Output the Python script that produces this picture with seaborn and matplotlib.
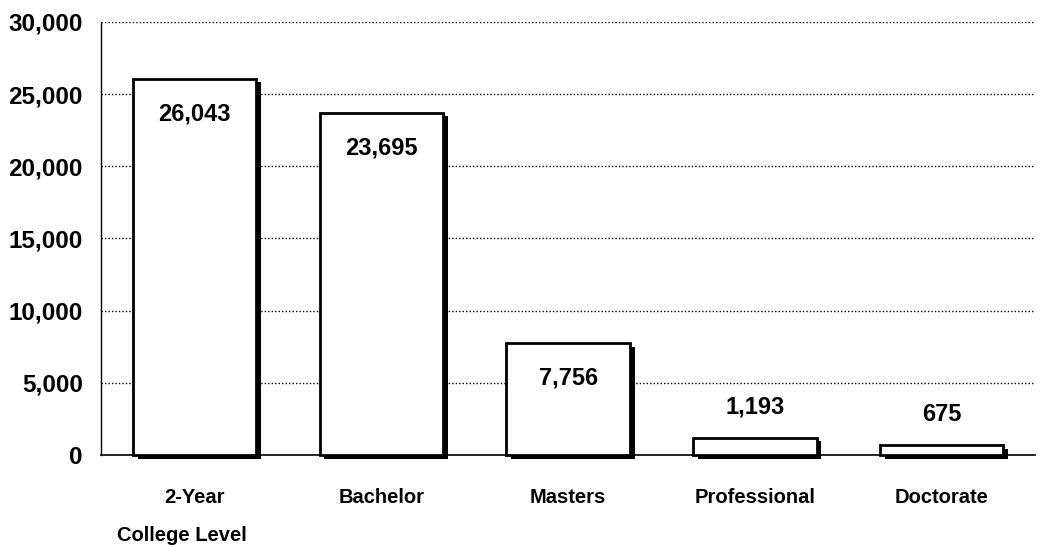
import pandas as pd
import seaborn as sns
import matplotlib.pyplot as plt
import matplotlib.patheffects as pe
from matplotlib.ticker import FuncFormatter

degrees = ["2-Year", "Bachelor", "Masters", "Professional", "Doctorate"]
counts = [26043, 23695, 7756, 1193, 675]

df = pd.DataFrame({"degree": degrees, "count": counts})

sns.set_theme(style="white", rc={
    "text.color": "black",
    "axes.labelcolor": "black",
    "xtick.color": "black",
    "ytick.color": "black",
})
plt.rcParams["font.family"] = ["Liberation Sans", "DejaVu Sans"]
plt.rcParams["font.weight"] = "bold"

fig = plt.figure(figsize=(10.46, 5.47), dpi=100)
ax = fig.add_axes([0.0966, 0.168, 0.893, 0.792])

sns.barplot(data=df, x="degree", y="count", color="white",
            edgecolor="black", linewidth=2, width=0.66, ax=ax, zorder=3)

for bar in ax.patches:
    bar.set_facecolor("white")
    bar.set_clip_on(False)
    bar.set_path_effects([
        pe.SimplePatchShadow(offset=(3.5, -2.5), shadow_rgbFace="black", alpha=1.0),
        pe.Normal(),
    ])

# value labels: inside the tall bars, above the short ones
for bar, v in zip(ax.patches, counts):
    x = bar.get_x() + bar.get_width() / 2
    if v > 5000:
        ax.annotate(f"{v:,}", (x, v), xytext=(0, -17), textcoords="offset points",
                    ha="center", va="top", fontsize=17, fontweight="bold", zorder=5)
    else:
        ax.annotate(f"{v:,}", (x, v), xytext=(0, 14), textcoords="offset points",
                    ha="center", va="bottom", fontsize=17, fontweight="bold", zorder=5)

ax.set_ylim(0, 30000)
ax.set_xlim(-0.5, 4.5)
ax.set_yticks(range(0, 30001, 5000))
ax.yaxis.set_major_formatter(FuncFormatter(lambda v, p: f"{int(v):,}"))
ax.yaxis.grid(True, color="black", linestyle=(0, (1, 1.5)), linewidth=1)
ax.set_axisbelow(True)

for s in ["top", "right"]:
    ax.spines[s].set_visible(False)
ax.spines["left"].set_color("black")
ax.spines["left"].set_linewidth(1)
ax.spines["bottom"].set_color("black")
ax.spines["bottom"].set_linewidth(1.2)

ax.tick_params(axis="y", length=0, pad=13, labelsize=17.5)
ax.tick_params(axis="x", length=0, pad=24, labelsize=14.5)
for lbl in ax.get_xticklabels() + ax.get_yticklabels():
    lbl.set_fontweight("bold")

ax.set_ylabel("")
ax.set_xlabel("College Level", fontsize=14.5, fontweight="bold")
ax.xaxis.set_label_coords(0.087, -0.163)

fig.savefig("out.png", dpi=100, facecolor="white")
